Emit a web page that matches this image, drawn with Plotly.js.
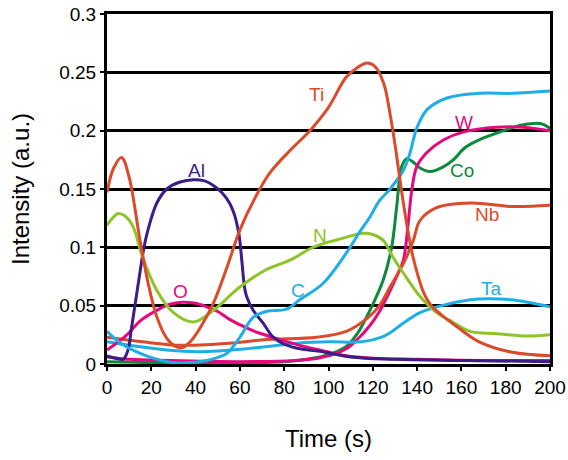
<!DOCTYPE html>
<html>
<head>
<meta charset="utf-8">
<script src="https://cdn.plot.ly/plotly-3.0.1.min.js"></script>
<style>
  html, body { margin: 0; padding: 0; background: #fff; }
  #chart { width: 568px; height: 460px; }
</style>
</head>
<body>
<div id="chart"></div>
<script>
// Depth profile intensities (a.u.) against sputter time (s)

const tiTime = [0, 3, 6.6, 10, 14.9, 18.5, 22.4, 27, 31, 34, 38, 43, 48, 54, 60, 67, 73.6, 82.6, 91.6, 100, 108, 113, 117.4, 121, 125, 128, 130.5, 133, 135.5, 138, 140.5, 143, 146, 151.7, 158, 168, 183, 200];
const tiVal  = [0.147, 0.168, 0.177, 0.160, 0.106, 0.070, 0.041, 0.022, 0.015, 0.014, 0.020, 0.034, 0.052, 0.082, 0.115, 0.143, 0.164, 0.183, 0.200, 0.220, 0.246, 0.254, 0.258, 0.255, 0.240, 0.212, 0.182, 0.148, 0.118, 0.093, 0.075, 0.061, 0.051, 0.041, 0.032, 0.019, 0.010, 0.007];

const nbTime = [0, 16, 34, 57, 72, 94.6, 108, 118, 123, 127.8, 133.8, 138.3, 141.3, 148.8, 164, 183, 200];
const nbVal  = [0.023, 0.019, 0.016, 0.018, 0.021, 0.023, 0.028, 0.040, 0.050, 0.066, 0.086, 0.106, 0.123, 0.134, 0.138, 0.135, 0.136];

const alTime = [0, 4, 7.3, 9.5, 11, 13, 15, 16.5, 18.5, 22.5, 27, 33, 39, 44, 49.5, 54, 57, 59.5, 60.8, 62, 63, 66, 70.5, 75, 80, 87, 96, 110, 130, 160, 200];
const alVal  = [0.007, 0.005, 0.004, 0.012, 0.030, 0.055, 0.080, 0.098, 0.115, 0.138, 0.150, 0.156, 0.158, 0.157, 0.151, 0.142, 0.131, 0.112, 0.090, 0.067, 0.058, 0.046, 0.035, 0.023, 0.017, 0.013, 0.011, 0.006, 0.004, 0.003, 0.002];

const oTime = [0, 9, 15, 22.4, 28, 34, 40, 45, 50, 55.5, 63, 68, 78, 87, 96, 108, 120, 140, 170, 200];
const oVal  = [0.012, 0.025, 0.037, 0.046, 0.051, 0.053, 0.052, 0.049, 0.045, 0.038, 0.031, 0.027, 0.021, 0.016, 0.012, 0.007, 0.005, 0.004, 0.003, 0.003];

const wTime = [0, 10, 27, 60, 85, 95, 102, 108, 113, 118.7, 123, 127.8, 131, 133.8, 136, 137.6, 139.8, 144.3, 151.8, 161, 176, 188, 200];
const wVal  = [0.006, 0.004, 0.003, 0.002, 0.003, 0.005, 0.008, 0.013, 0.021, 0.033, 0.045, 0.063, 0.076, 0.089, 0.121, 0.149, 0.169, 0.181, 0.192, 0.199, 0.203, 0.203, 0.200];

const nTime = [0, 5, 8, 11.7, 16, 22.5, 30, 39, 48, 60, 72, 82.6, 93, 105, 115.6, 120, 124.7, 129, 133.8, 141.3, 148.8, 156, 164, 176, 190, 200];
const nVal  = [0.119, 0.129, 0.127, 0.118, 0.092, 0.063, 0.044, 0.036, 0.046, 0.066, 0.081, 0.089, 0.100, 0.107, 0.112, 0.111, 0.106, 0.092, 0.078, 0.058, 0.044, 0.036, 0.028, 0.026, 0.024, 0.025];

const cTime = [0, 6, 16.4, 27, 36, 45, 54, 60, 66, 72, 81, 87, 97.5, 108, 114, 118.7, 123, 127.8, 133.8, 136.8, 138.3, 140, 144.5, 153.5, 168, 183, 200];
const cVal  = [0.028, 0.018, 0.008, 0.002, 0.001, 0.003, 0.009, 0.023, 0.040, 0.045, 0.047, 0.055, 0.069, 0.095, 0.113, 0.126, 0.140, 0.150, 0.166, 0.181, 0.192, 0.203, 0.218, 0.228, 0.232, 0.232, 0.234];

const taTime = [0, 10, 27, 42, 64.5, 87, 100, 115, 124, 128, 133, 141.3, 148.8, 164, 172, 183, 200];
const taVal  = [0.019, 0.016, 0.012, 0.0106, 0.0134, 0.018, 0.019, 0.019, 0.023, 0.027, 0.034, 0.044, 0.049, 0.055, 0.056, 0.055, 0.049];

const coTime = [0, 40, 80, 90, 100, 108, 113, 118.7, 124.7, 128.5, 130.8, 133, 135.3, 138.3, 141.3, 145.8, 151.8, 156.3, 162, 169, 176, 188, 196, 200];
const coVal  = [0.002, 0.001, 0.002, 0.004, 0.008, 0.015, 0.026, 0.046, 0.072, 0.100, 0.135, 0.169, 0.176, 0.173, 0.168, 0.165, 0.169, 0.175, 0.186, 0.193, 0.198, 0.205, 0.206, 0.202];

// Element labels and where they sit
const labelText = ['Ti', 'Al', 'O', 'N', 'C', 'W', 'Co', 'Nb', 'Ta'];
const labelTime = [94.4, 40.2, 33.4, 96.2, 86.2, 161.2, 160.3, 171.6, 173.4];
const labelVal  = [0.231, 0.166, 0.062, 0.110, 0.063, 0.207, 0.166, 0.128, 0.065];

const RED = '#db4a2b', PURPLE = '#3b1d87', MAGENTA = '#e5087e',
      LIME = '#8cc42a', CYAN = '#1eaee6', GREEN = '#0b8a3b';
const labelColor = [RED, PURPLE, MAGENTA, LIME, CYAN, MAGENTA, GREEN, RED, CYAN];

function series(x, y, color) {
  return {
    x: x, y: y, type: 'scatter', mode: 'lines',
    line: { color: color, width: 3, shape: 'spline', smoothing: 1 },
    hoverinfo: 'skip', showlegend: false
  };
}

const traces = [
  series(coTime, coVal, GREEN),
  series(wTime, wVal, MAGENTA),
  series(taTime, taVal, CYAN),
  series(nbTime, nbVal, RED),
  series(oTime, oVal, MAGENTA),
  series(alTime, alVal, PURPLE),
  series(nTime, nVal, LIME),
  series(cTime, cVal, CYAN),
  series(tiTime, tiVal, RED)
];

const FONT = 'Liberation Sans, Arial, sans-serif';

const annotations = labelText.map((t, i) => ({
  x: labelTime[i], y: labelVal[i], text: t, showarrow: false,
  font: { family: FONT, size: 19, color: labelColor[i] }
}));

const layout = {
  width: 568, height: 460,
  margin: { l: 107, r: 18, t: 14, b: 96 },
  paper_bgcolor: '#fff', plot_bgcolor: '#fff',
  font: { family: FONT, size: 19, color: '#000' },
  xaxis: {
    range: [0, 200], dtick: 20, tick0: 0,
    showgrid: false, zeroline: false,
    showline: true, linecolor: '#000', linewidth: 3, mirror: true,
    ticks: 'outside', ticklen: 4, tickwidth: 2, tickcolor: '#000',
    tickfont: { family: FONT, size: 19, color: '#000' },
    title: { text: 'Time (s)', font: { family: FONT, size: 24, color: '#000' }, standoff: 34 }
  },
  yaxis: {
    range: [0, 0.3], dtick: 0.05, tick0: 0,
    showgrid: true, gridcolor: '#000', gridwidth: 3, zeroline: false,
    showline: true, linecolor: '#000', linewidth: 3, mirror: true,
    ticks: 'outside', ticklen: 4, tickwidth: 2, tickcolor: '#000',
    tickfont: { family: FONT, size: 19, color: '#000' },
    title: { text: 'Intensity (a.u.)', font: { family: FONT, size: 24, color: '#000' }, standoff: 23 }
  },
  annotations: annotations
};

Plotly.newPlot('chart', traces, layout, { displayModeBar: false, staticPlot: true });
</script>
</body>
</html>
